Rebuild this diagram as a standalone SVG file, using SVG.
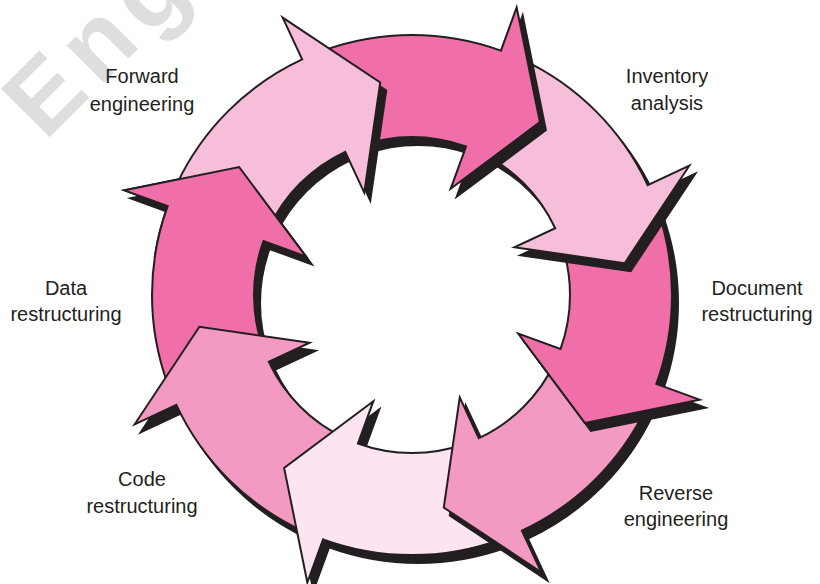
<svg xmlns="http://www.w3.org/2000/svg" width="820" height="584" viewBox="0 0 820 584">
<defs>
<style>
.lbl{font-family:"Liberation Sans",Arial,sans-serif;font-size:20px;fill:#231F20;text-anchor:middle}
.sh{fill:#231F20;stroke:#231F20;stroke-width:2;stroke-linejoin:miter;stroke-miterlimit:10}
.ar{stroke:#231F20;stroke-width:2;stroke-linejoin:miter;stroke-miterlimit:10}
.hot{fill:#F06FA9}
.lt{fill:#F6BED8}
.md{fill:#F39AC2}
.vl{fill:#FCE5F0}
.wm{font-family:"Liberation Sans",Arial,sans-serif;font-weight:bold;font-size:100px;letter-spacing:10px;fill:#DEDEDE}
</style>
<path id="pA" d="M323.08,50.68 A260,260 0 0 1 500.92,50.68 L516.65,7.45 L539.88,122.16 L450.65,188.81 L466.04,146.53 A158,158 0 0 0 357.96,146.53 Z"/>
<path id="pB" d="M521.88,59.36 A260,260 0 0 1 647.64,185.12 L689.33,165.68 L624.64,263.22 L514.41,247.25 L555.20,228.23 A158,158 0 0 0 478.77,151.80 Z"/>
<path id="pC" d="M656.32,206.08 A260,260 0 0 1 656.32,383.92 L699.55,399.65 L584.84,422.88 L518.19,333.65 L560.47,349.04 A158,158 0 0 0 560.47,240.96 Z"/>
<path id="pD" d="M647.64,404.88 A260,260 0 0 1 521.88,530.64 L541.32,572.33 L443.78,507.64 L459.75,397.41 L478.77,438.20 A158,158 0 0 0 555.20,361.77 Z"/>
<path id="pE" d="M500.92,539.32 A260,260 0 0 1 323.08,539.32 L307.35,582.55 L284.12,467.84 L373.35,401.19 L357.96,443.47 A158,158 0 0 0 466.04,443.47 Z"/>
<path id="pG" d="M302.12,530.64 A260,260 0 0 1 176.36,404.88 L134.67,424.32 L199.36,326.78 L309.59,342.75 L268.80,361.77 A158,158 0 0 0 345.23,438.20 Z"/>
<path id="pH" d="M167.68,383.92 A260,260 0 0 1 167.68,206.08 L124.45,190.35 L239.16,167.12 L305.81,256.35 L263.53,240.96 A158,158 0 0 0 263.53,349.04 Z"/>
<path id="pF" d="M176.36,185.12 A260,260 0 0 1 302.12,59.36 L282.68,17.67 L380.22,82.36 L364.25,192.59 L345.23,151.80 A158,158 0 0 0 268.80,228.23 Z"/>
<clipPath id="clipH"><polygon points="412,295 16,239 66,95 155,-11"/></clipPath>
</defs>
<rect width="820" height="584" fill="#FFFFFF"/>
<text class="wm" transform="translate(45,142) rotate(-45)">Eng</text>
<g id="cycle-arrows">
<g id="arrow-h"><use href="#pH" class="sh" transform="translate(6,8)"/><use href="#pH" class="ar hot"/></g>
<g id="arrow-g"><use href="#pG" class="sh" transform="translate(6,8)"/><use href="#pG" class="ar md"/></g>
<g id="arrow-e"><use href="#pE" class="sh" transform="translate(6,8)"/><use href="#pE" class="ar vl"/></g>
<g id="arrow-d"><use href="#pD" class="sh" transform="translate(6,8)"/><use href="#pD" class="ar md"/></g>
<g id="arrow-c"><use href="#pC" class="sh" transform="translate(6,8)"/><use href="#pC" class="ar hot"/></g>
<g id="arrow-b"><use href="#pB" class="sh" transform="translate(6,8)"/><use href="#pB" class="ar lt"/></g>
<g id="arrow-a"><use href="#pA" class="sh" transform="translate(6,8)"/><use href="#pA" class="ar hot"/></g>
<g id="arrow-f"><use href="#pF" class="sh" transform="translate(6,8)"/><use href="#pF" class="ar lt"/></g>
<g id="arrow-h-head" clip-path="url(#clipH)"><use href="#pH" class="ar hot"/></g>
</g>
<g id="label-forward"><text class="lbl" x="142" y="83">Forward</text><text class="lbl" x="142" y="111">engineering</text></g>
<g id="label-inventory"><text class="lbl" x="667" y="83">Inventory</text><text class="lbl" x="667" y="110">analysis</text></g>
<g id="label-document"><text class="lbl" x="757" y="295">Document</text><text class="lbl" x="757" y="321">restructuring</text></g>
<g id="label-reverse"><text class="lbl" x="676" y="500">Reverse</text><text class="lbl" x="676" y="526">engineering</text></g>
<g id="label-code"><text class="lbl" x="142" y="486">Code</text><text class="lbl" x="142" y="513">restructuring</text></g>
<g id="label-data"><text class="lbl" x="66" y="295">Data</text><text class="lbl" x="66" y="321">restructuring</text></g>
</svg>
